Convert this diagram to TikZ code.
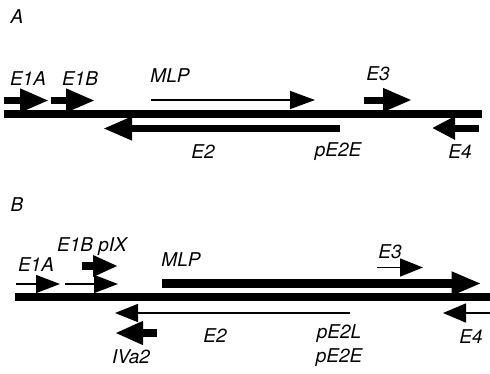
\documentclass[tikz,border=0pt]{standalone}
\usepackage{fontspec}
\setmainfont{TeX Gyre Heros}
\usetikzlibrary{arrows.meta}

\tikzset{
  genome/.style={line width=8pt},
  thickarrow/.style={line width=7pt, -{Triangle[length=29pt,width=22pt]}},
  thinarrow/.style={line width=1.5pt, -{Triangle[length=24pt,width=18pt]}},
  lbl/.style={font=\fontsize{19}{19}\selectfont\itshape, inner sep=0pt},
}

\begin{document}
\begin{tikzpicture}[x=1pt, y=-1pt]
\useasboundingbox (0,0) rectangle (490,373);

% ---------------- panel A ----------------
\node[lbl] (labA) at (17,17) {A};

\coordinate (gA1) at (3.5,114);
\coordinate (gA2) at (482,114);
\draw[genome] (gA1) -- (gA2);

% rightward transcription units
\coordinate (e1aA0) at (4,100.5);   \coordinate (e1aA1) at (49,100.5);
\coordinate (e1bA0) at (51,100.5);  \coordinate (e1bA1) at (95,100.5);
\coordinate (mlpA0) at (151,100);   \coordinate (mlpA1) at (315,100);
\coordinate (e3A0)  at (364,100);   \coordinate (e3A1)  at (412,100);
\draw[thickarrow] (e1aA0) -- (e1aA1);
\draw[thickarrow] (e1bA0) -- (e1bA1);
\draw[thinarrow, -{Triangle[length=25pt,width=18pt]}] (mlpA0) -- (mlpA1);
\draw[thickarrow] (e3A0) -- (e3A1);

% leftward transcription units
\coordinate (e2A0) at (340,128.5); \coordinate (e2A1) at (103,128.5);
\coordinate (e4A0) at (479,128);   \coordinate (e4A1) at (432,128);
\draw[thickarrow] (e2A0) -- (e2A1);
\draw[thickarrow, -{Triangle[length=23pt,width=22pt]}] (e4A0) -- (e4A1);

\node[lbl] (tE1A) at (28,79)  {E1A};
\node[lbl] (tE1B) at (80,79)  {E1B};
\node[lbl] (tMLP) at (170,76) {MLP};
\node[lbl] (tE3)  at (378,74) {E3};
\node[lbl] (tE2)  at (203,152) {E2};
\node[lbl] (tpE2E) at (338,152) {pE2E};
\node[lbl] (tE4)  at (460,152) {E4};

% ---------------- panel B ----------------
\node[lbl] (labB) at (17,205) {B};

\coordinate (gB1) at (15,297);
\coordinate (gB2) at (490,297);
\draw[genome] (gB1) -- (gB2);

% rightward transcription units
\coordinate (e1aB0) at (16,284);  \coordinate (e1aB1) at (60,284);
\coordinate (e1bB0) at (65,284);  \coordinate (e1bB1) at (118,284);
\coordinate (pixB0) at (82,266);  \coordinate (pixB1) at (118,266);
\coordinate (mlpB0) at (162,283.5); \coordinate (mlpB1) at (481.5,283.5);
\coordinate (e3B0)  at (377,267.5); \coordinate (e3B1)  at (423,267.5);
\draw[thinarrow] (e1aB0) -- (e1aB1);
\draw[thinarrow] (e1bB0) -- (e1bB1);
\draw[thickarrow, line width=8pt, -{Triangle[length=25pt,width=20pt]}] (pixB0) -- (pixB1);
\draw[thickarrow, line width=9pt, -{Triangle[length=30pt,width=22pt]}] (mlpB0) -- (mlpB1);
\draw[thinarrow, -{Triangle[length=23pt,width=18pt]}] (e3B0) -- (e3B1);

% leftward transcription units
\coordinate (e2B0) at (350,313);  \coordinate (e2B1) at (115,313);
\coordinate (e4B0) at (490,313);  \coordinate (e4B1) at (443,313);
\coordinate (ivaB0) at (157,333); \coordinate (ivaB1) at (115,333);
\draw[thinarrow, -{Triangle[length=23pt,width=18pt]}] (e2B0) -- (e2B1);
\draw[thinarrow, -{Triangle[length=23pt,width=19pt]}] (e4B0) -- (e4B1);
\draw[thickarrow, line width=8pt, -{Triangle[length=28pt,width=22pt]}] (ivaB0) -- (ivaB1);

\node[lbl] (uE1BpIX) at (92,247) {E1B pIX};
\node[lbl] (uE1A) at (36,265) {E1A};
\node[lbl] (uMLP) at (181,260) {MLP};
\node[lbl] (uE3)  at (390,252) {E3};
\node[lbl] (uE2)  at (215,336) {E2};
\node[lbl] (upE2L) at (339,334) {pE2L};
\node[lbl] (upE2E) at (339,358) {pE2E};
\node[lbl] (uIVa2) at (131,357) {IVa2};
\node[lbl] (uE4)  at (471,337) {E4};
\end{tikzpicture}
\end{document}
